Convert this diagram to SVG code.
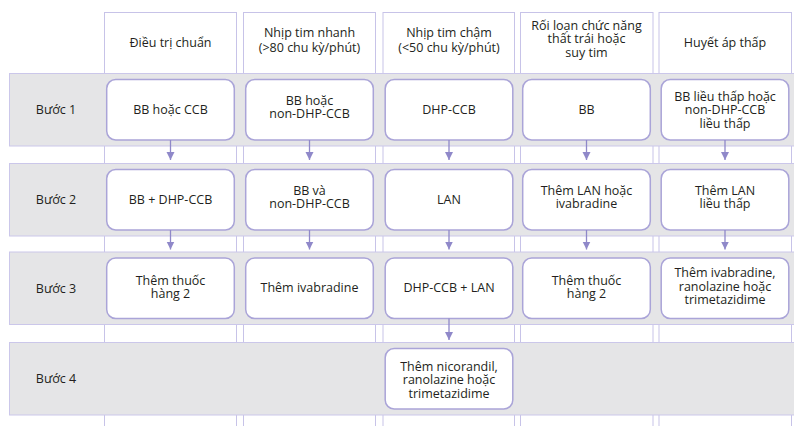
<svg xmlns="http://www.w3.org/2000/svg" width="794" height="426" viewBox="0 0 794 426">
<defs>
<style>
.col{fill:#ffffff;stroke:#c7c3e8;stroke-width:1}
.band{fill:#e5e5e7;stroke:#cbc7ea;stroke-width:1}
.node{fill:#ffffff;stroke:#aaa4d8;stroke-width:1.5}
.t{font-family:"Open Sans","Noto Sans","Liberation Sans",sans-serif;font-size:12.5px;fill:#231f20;text-anchor:middle}
.lbl{font-family:"Open Sans","Noto Sans","Liberation Sans",sans-serif;font-size:12.5px;fill:#231f20;text-anchor:middle}
.arr{stroke:#8f88c9;stroke-width:1.3;fill:none}
</style>
<marker id="ah" markerUnits="userSpaceOnUse" markerWidth="9" markerHeight="9" refX="8" refY="4" orient="auto">
<path d="M0,0 L8,4 L0,8 z" fill="#8f88c9"/>
</marker>
</defs>
<rect width="794" height="426" fill="#ffffff"/>
<g id="columns">
<rect class="col" x="104.5" y="12.5" width="132" height="430"/>
<rect class="col" x="243.5" y="12.5" width="132" height="430"/>
<rect class="col" x="383" y="12.5" width="131.5" height="430"/>
<rect class="col" x="520.5" y="12.5" width="132.5" height="430"/>
<rect class="col" x="659" y="12.5" width="132.5" height="430"/>
</g>
<g id="headers">
<text class="t" x="170.5" y="46.5">Điều trị chuẩn</text>
<text class="t" x="309.5" y="37">Nhịp tim nhanh</text>
<text class="t" x="309.5" y="51.5">(&gt;80 chu kỳ/phút)</text>
<text class="t" x="449" y="37">Nhịp tim chậm</text>
<text class="t" x="449" y="51.5">(&lt;50 chu kỳ/phút)</text>
<text class="t" x="586.5" y="29.5">Rối loạn chức năng</text>
<text class="t" x="586.5" y="43">thất trái hoặc</text>
<text class="t" x="586.5" y="56.5">suy tim</text>
<text class="t" x="725" y="46.5">Huyết áp thấp</text>
</g>
<g id="bands">
<rect class="band" x="9.5" y="73.5" width="800" height="72.5"/>
<rect class="band" x="9.5" y="163.5" width="800" height="72.5"/>
<rect class="band" x="9.5" y="252" width="800" height="72.5"/>
<rect class="band" x="9.5" y="342.5" width="800" height="72.5"/>
<text class="lbl" x="56" y="114">Bước 1</text>
<text class="lbl" x="56" y="204">Bước 2</text>
<text class="lbl" x="56" y="292.5">Bước 3</text>
<text class="lbl" x="56" y="383">Bước 4</text>
</g>
<g id="n11"><rect class="node" x="106.7" y="79.5" width="127.6" height="60.5" rx="9"/><text class="t" x="170.5" y="113.5">BB hoặc CCB</text></g>
<g id="n12"><rect class="node" x="245.7" y="79.5" width="127.6" height="60.5" rx="9"/><text class="t" x="309.5" y="104.5">BB hoặc</text><text class="t" x="309.5" y="118">non-DHP-CCB</text></g>
<g id="n13"><rect class="node" x="385.2" y="79.5" width="127.6" height="60.5" rx="9"/><text class="t" x="449" y="113.5">DHP-CCB</text></g>
<g id="n14"><rect class="node" x="522.7" y="79.5" width="127.6" height="60.5" rx="9"/><text class="t" x="586.5" y="113.5">BB</text></g>
<g id="n15"><rect class="node" x="661.2" y="79.5" width="127.6" height="60.5" rx="9"/><text class="t" x="725" y="100.5">BB liều thấp hoặc</text><text class="t" x="725" y="114">non-DHP-CCB</text><text class="t" x="725" y="127.5">liều thấp</text></g>
<g id="n21"><rect class="node" x="106.7" y="169.5" width="127.6" height="60.5" rx="9"/><text class="t" x="170.5" y="203.5">BB + DHP-CCB</text></g>
<g id="n22"><rect class="node" x="245.7" y="169.5" width="127.6" height="60.5" rx="9"/><text class="t" x="309.5" y="194.5">BB và</text><text class="t" x="309.5" y="208">non-DHP-CCB</text></g>
<g id="n23"><rect class="node" x="385.2" y="169.5" width="127.6" height="60.5" rx="9"/><text class="t" x="449" y="203.5">LAN</text></g>
<g id="n24"><rect class="node" x="522.7" y="169.5" width="127.6" height="60.5" rx="9"/><text class="t" x="586.5" y="194.5">Thêm LAN hoặc</text><text class="t" x="586.5" y="208">ivabradine</text></g>
<g id="n25"><rect class="node" x="661.2" y="169.5" width="127.6" height="60.5" rx="9"/><text class="t" x="725" y="194.5">Thêm LAN</text><text class="t" x="725" y="208">liều thấp</text></g>
<g id="n31"><rect class="node" x="106.7" y="258" width="127.6" height="60.5" rx="9"/><text class="t" x="170.5" y="284.5">Thêm thuốc</text><text class="t" x="170.5" y="298">hàng 2</text></g>
<g id="n32"><rect class="node" x="245.7" y="258" width="127.6" height="60.5" rx="9"/><text class="t" x="309.5" y="291.5">Thêm ivabradine</text></g>
<g id="n33"><rect class="node" x="385.2" y="258" width="127.6" height="60.5" rx="9"/><text class="t" x="449" y="291.5">DHP-CCB + LAN</text></g>
<g id="n34"><rect class="node" x="522.7" y="258" width="127.6" height="60.5" rx="9"/><text class="t" x="586.5" y="284.5">Thêm thuốc</text><text class="t" x="586.5" y="298">hàng 2</text></g>
<g id="n35"><rect class="node" x="661.2" y="258" width="127.6" height="60.5" rx="9"/><text class="t" x="725" y="277">Thêm ivabradine,</text><text class="t" x="725" y="290.5">ranolazine hoặc</text><text class="t" x="725" y="304">trimetazidime</text></g>
<g id="n43"><rect class="node" x="385.2" y="348.5" width="127.6" height="60.5" rx="9"/><text class="t" x="449" y="370.5">Thêm nicorandil,</text><text class="t" x="449" y="384">ranolazine hoặc</text><text class="t" x="449" y="397.5">trimetazidime</text></g>
<g id="connectors">
<line class="arr" x1="170.5" y1="140" x2="170.5" y2="160" marker-end="url(#ah)"/>
<line class="arr" x1="309.5" y1="140" x2="309.5" y2="160" marker-end="url(#ah)"/>
<line class="arr" x1="449" y1="140" x2="449" y2="160" marker-end="url(#ah)"/>
<line class="arr" x1="586.5" y1="140" x2="586.5" y2="160" marker-end="url(#ah)"/>
<line class="arr" x1="725" y1="140" x2="725" y2="160" marker-end="url(#ah)"/>
<line class="arr" x1="170.5" y1="230" x2="170.5" y2="249.5" marker-end="url(#ah)"/>
<line class="arr" x1="309.5" y1="230" x2="309.5" y2="249.5" marker-end="url(#ah)"/>
<line class="arr" x1="449" y1="230" x2="449" y2="249.5" marker-end="url(#ah)"/>
<line class="arr" x1="586.5" y1="230" x2="586.5" y2="249.5" marker-end="url(#ah)"/>
<line class="arr" x1="725" y1="230" x2="725" y2="249.5" marker-end="url(#ah)"/>
<line class="arr" x1="449" y1="318.5" x2="449" y2="340" marker-end="url(#ah)"/>
</g>
</svg>
